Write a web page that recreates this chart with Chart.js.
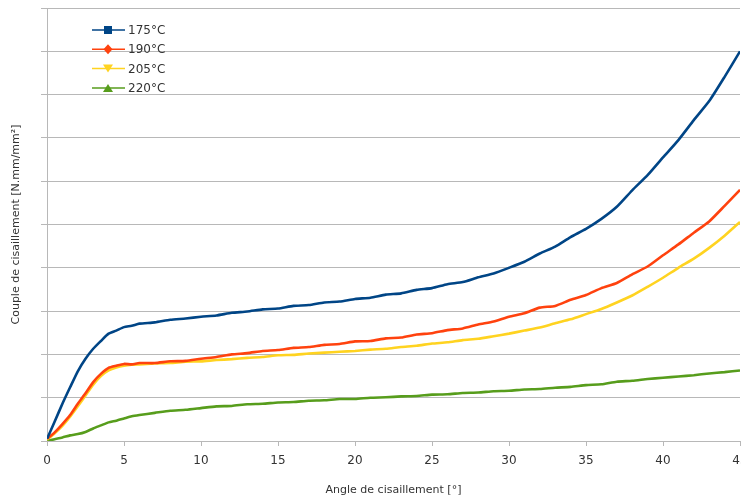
<!DOCTYPE html>
<html>
<head>
<meta charset="utf-8">
<script src="https://cdn.jsdelivr.net/npm/chart.js@4.4.1/dist/chart.umd.min.js"></script>
<style>
  html, body { margin: 0; padding: 0; background: #fff; overflow: hidden; }
</style>
</head>
<body>
<canvas id="graf" width="741" height="499"></canvas>
<script>
// angle de cisaillement (x)
const angles = [0,0.5,1,1.5,2,2.5,3,3.5,4,4.5,5,5.5,6,7,8,9,10,11,12,13,14,15,16,17,18,19,20,
  21,22,23,24,25,26,27,28,29,30,31,32,33,34,35,36,37,38,39,40,41,42,43,44,45];

// couple de cisaillement (unites = graduations)
const serie175 = [0.05,0.45,0.86,1.24,1.61,1.9,2.13,2.31,2.48,2.55,2.63,2.66,2.71,2.74,2.8,2.83,2.87,
  2.9,2.96,2.99,3.04,3.06,3.12,3.14,3.2,3.22,3.28,3.31,3.38,3.41,3.49,3.53,3.62,3.67,3.78,3.87,4.0,
  4.14,4.33,4.49,4.71,4.9,5.13,5.41,5.79,6.14,6.55,6.95,7.41,7.85,8.41,9.0];
const serie190 = [0.05,0.2,0.39,0.6,0.86,1.1,1.36,1.55,1.69,1.74,1.78,1.77,1.8,1.8,1.84,1.85,1.9,
  1.94,2.0,2.03,2.08,2.1,2.15,2.17,2.22,2.24,2.3,2.31,2.37,2.39,2.46,2.49,2.56,2.6,2.69,2.76,2.87,
  2.95,3.08,3.12,3.26,3.37,3.53,3.65,3.85,4.03,4.29,4.54,4.81,5.07,5.43,5.8];
const serie205 = [0.03,0.18,0.35,0.56,0.8,1.05,1.3,1.5,1.63,1.7,1.74,1.76,1.77,1.79,1.8,1.83,1.84,
  1.87,1.89,1.92,1.94,1.98,1.99,2.02,2.04,2.06,2.08,2.11,2.13,2.17,2.2,2.25,2.28,2.33,2.36,2.42,2.48,
  2.55,2.62,2.72,2.81,2.93,3.05,3.2,3.36,3.56,3.77,4.0,4.21,4.46,4.74,5.06];
const serie220 = [0.0,0.04,0.08,0.13,0.16,0.21,0.29,0.36,0.43,0.47,0.52,0.57,0.6,0.65,0.7,0.72,0.76,
  0.8,0.81,0.85,0.86,0.89,0.9,0.93,0.94,0.97,0.97,1.0,1.01,1.03,1.04,1.07,1.08,1.11,1.12,1.15,1.16,
  1.19,1.2,1.23,1.25,1.29,1.31,1.37,1.39,1.43,1.46,1.49,1.52,1.56,1.59,1.63];

const etiquettes = ['175°C', '190°C', '205°C', '220°C'];
const couleurs = ['#004586', '#ff420e', '#ffd320', '#579d1c'];
const symboles = ['rect', 'rectRot', 'triangleDown', 'triangle'];
const series = [serie175, serie190, serie205, serie220];

const POLICE = "'DejaVu Sans', sans-serif";
const GRIS = '#b8b8b8';

function dessinerSymbole(ctx, type, x, y, col) {
  ctx.fillStyle = col;
  ctx.beginPath();
  if (type === 'rect') {
    ctx.rect(x - 4, y - 4, 8, 8);
  } else if (type === 'rectRot') {
    ctx.moveTo(x, y - 5); ctx.lineTo(x + 4.5, y); ctx.lineTo(x, y + 5); ctx.lineTo(x - 4.5, y);
  } else if (type === 'triangleDown') {
    ctx.moveTo(x - 5, y - 4); ctx.lineTo(x + 5, y - 4); ctx.lineTo(x, y + 4);
  } else {
    ctx.moveTo(x - 5, y + 4); ctx.lineTo(x + 5, y + 4); ctx.lineTo(x, y - 4);
  }
  ctx.closePath();
  ctx.fill();
}

// legende dans la zone du graphique, en haut a gauche
const legendeInterne = {
  id: 'legendeInterne',
  afterDraw(chart) {
    const ctx = chart.ctx;
    const a = chart.chartArea;
    ctx.save();
    chart.data.datasets.forEach((ds, i) => {
      const y = a.top + 22 + i * 19.3;
      const x0 = a.left + 45;
      ctx.strokeStyle = ds.borderColor;
      ctx.lineWidth = 1.5;
      ctx.beginPath();
      ctx.moveTo(x0, y);
      ctx.lineTo(x0 + 33, y);
      ctx.stroke();
      dessinerSymbole(ctx, symboles[i], x0 + 16, y, ds.borderColor);
      ctx.fillStyle = '#333';
      ctx.font = '12px ' + POLICE;
      ctx.textBaseline = 'middle';
      ctx.fillText(ds.label, x0 + 36, y + 1);
    });
    ctx.restore();
  }
};

new Chart(document.getElementById('graf'), {
  type: 'line',
  data: {
    datasets: series.map((s, i) => ({
      label: etiquettes[i],
      data: angles.map((a, k) => ({x: a, y: s[k]})),
      borderColor: couleurs[i],
      backgroundColor: couleurs[i],
      borderWidth: 2.6,
      pointRadius: 0,
      tension: 0.2
    }))
  },
  options: {
    responsive: false,
    animation: false,
    layout: { padding: { top: 8, right: 0, bottom: 0, left: 0 } },
    plugins: {
      legend: { display: false },
      tooltip: { enabled: false }
    },
    scales: {
      x: {
        type: 'linear',
        min: 0,
        max: 45,
        ticks: { stepSize: 5, color: '#333', font: { family: POLICE, size: 12 }, padding: 8 },
        grid: { drawOnChartArea: false, drawTicks: true, tickLength: 5, color: GRIS },
        border: { color: GRIS },
        title: { display: true, text: 'Angle de cisaillement [°]', color: '#333',
                 font: { family: POLICE, size: 11 }, padding: { top: 4, bottom: 2 } },
        afterFit(scale) { scale.height = 58; scale.paddingRight = 1; }
      },
      y: {
        min: 0,
        max: 10,
        ticks: { stepSize: 1, display: false },
        grid: { color: GRIS, drawTicks: true, tickLength: 6 },
        border: { color: GRIS },
        title: { display: true, text: 'Couple de cisaillement [N.mm/mm²]', color: '#333',
                 font: { family: POLICE, size: 11 }, padding: { top: 10, bottom: 4 } },
        afterFit(scale) { scale.width = 47; }
      }
    }
  },
  plugins: [legendeInterne]
});
</script>
</body>
</html>
